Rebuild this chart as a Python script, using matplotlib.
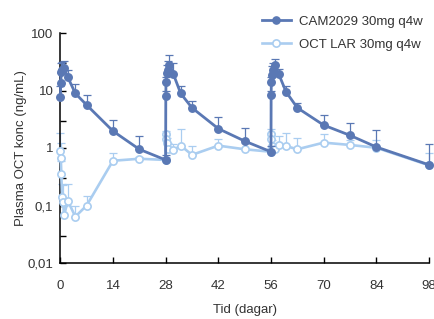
import matplotlib
matplotlib.use("Agg")
import matplotlib.pyplot as plt
import numpy as np
from matplotlib.ticker import FixedLocator, FixedFormatter, NullFormatter
from matplotlib.lines import Line2D

# ---- data ----
cam_days = [0.04, 0.1, 0.25, 0.5, 1, 2, 4, 7, 14, 21, 28,
            28.04, 28.1, 28.25, 28.5, 29, 30, 32, 35, 42, 49, 56,
            56.04, 56.1, 56.25, 56.5, 57, 58, 60, 63, 70, 77, 84, 98]
cam_conc = [7.6, 13.6, 21, 23, 24.5, 17, 8.9, 5.6, 1.97, 0.95, 0.62,
            8.0, 14.1, 20.3, 23.1, 28, 19.7, 8.9, 5.0, 2.17, 1.32, 0.86,
            8.2, 14.1, 18.9, 23, 28, 19.7, 9.5, 5.0, 2.5, 1.66, 1.04, 0.51]
cam_top = [12, 20, 30, 31, 33, 23, 13, 8.4, 3.1, 1.6, 0.75,
           10, 17, 28, 33, 42, 30, 11.8, 6.5, 3.45, 2.25, 1.1,
           10, 17, 27, 30, 35, 24, 12, 6.0, 3.7, 2.75, 2.05, 1.16]

oct_days = [0.04, 0.1, 0.25, 0.5, 0.75, 1, 2, 4, 7, 14, 21,
            28, 28.04, 28.1, 28.25, 28.5, 30, 32, 35, 42, 49, 56,
            56.04, 56.1, 56.25, 57, 58, 60, 63, 70, 77, 84, 98]
oct_conc = [0.89, 0.68, 0.36, 0.138, 0.113, 0.068, 0.12, 0.064, 0.1, 0.6, 0.65,
            0.62, 1.73, 1.41, 1.24, 0.95, 0.92, 1.1, 0.76, 1.1, 0.95, 0.86,
            1.73, 1.41, 1.08, 0.97, 1.13, 1.08, 0.95, 1.24, 1.13, 1.01, 0.5]
oct_top = [1.85, 1.2, 0.6, 0.235, 0.23, 0.1, 0.235, 0.098, 0.144, 0.83, 0.7,
           0.7, 2.0, 1.7, 1.5, 1.2, 1.16, 2.1, 1.1, 1.45, 1.2, 1.0,
           2.1, 1.8, 1.4, 1.2, 1.6, 1.85, 1.5, 1.73, 1.38, 1.38, 0.83]

x_ticks = [0, 14, 28, 42, 56, 70, 84, 98]
y_ticks = [0.01, 0.1, 1, 10, 100]
y_tick_labels = ["0,01", "0,1", "1", "10", "100"]
labels = ["CAM2029 30mg q4w", "OCT LAR 30mg q4w"]

# ---- style ----
plt.rcParams['font.family'] = ['Liberation Sans', 'DejaVu Sans']
FS = 9.5
dark = '#5a78b4'
light = '#aacdf0'
txt = '#333333'

fig = plt.figure(figsize=(4.35, 3.19), dpi=100)
ax = fig.add_axes([60.3/435, 1-263/319, (429-60.3)/435, (263-33)/319])

def draw(days, conc, top, color, face, lw, z):
    d = np.array(days); c = np.array(conc); t = np.array(top)
    err = np.vstack([np.zeros_like(c), np.clip(t - c, 0, None)])
    ax.errorbar(d, c, yerr=err, fmt='none', ecolor=color, elinewidth=0.9,
                capsize=2.6, capthick=0.9, zorder=z, clip_on=False)
    ax.plot(d, c, '-', color=color, lw=lw, marker='o', ms=5.2,
            mfc=face, mec=color, mew=1.2, zorder=z + 1, clip_on=False)

draw(oct_days, oct_conc, oct_top, light, 'white', 1.9, 2)
draw(cam_days, cam_conc, cam_top, dark, dark, 2.0, 4)

ax.set_yscale('log')
ax.set_ylim(0.01, 100)
ax.set_xlim(0, 98)
ax.xaxis.set_major_locator(FixedLocator(x_ticks))
ax.yaxis.set_major_locator(FixedLocator(y_ticks))
ax.yaxis.set_major_formatter(FixedFormatter(y_tick_labels))
ax.yaxis.set_minor_locator(FixedLocator([0.03, 0.3, 3, 30]))
ax.yaxis.set_minor_formatter(NullFormatter())
ax.tick_params(axis='both', which='both', direction='in', length=4, width=1,
               labelsize=FS, labelcolor=txt, color='black')
ax.tick_params(axis='x', pad=12)
ax.tick_params(axis='y', pad=5)
for s in ['top', 'right']:
    ax.spines[s].set_visible(False)
for s in ['left', 'bottom']:
    ax.spines[s].set_linewidth(1.1)

ax.set_xlabel('Tid (dagar)', fontsize=FS, color=txt, labelpad=9)
ax.set_ylabel('Plasma OCT konc (ng/mL)', fontsize=FS, color=txt)
ax.yaxis.set_label_coords(-0.09, 0.5)

handles = [Line2D([], [], color=dark, lw=2.0, marker='o', ms=5.2, mfc=dark, mec=dark),
           Line2D([], [], color=light, lw=1.9, marker='o', ms=5.2, mfc='white', mec=light, mew=1.2)]
fig.legend(handles, labels, loc='upper left', bbox_to_anchor=(259/435, 1-13/319),
           frameon=False, fontsize=FS, handlelength=2.2, handletextpad=0.6,
           labelspacing=0.8, labelcolor=txt, borderaxespad=0, borderpad=0.2)

fig.savefig('out.png', dpi=100)
